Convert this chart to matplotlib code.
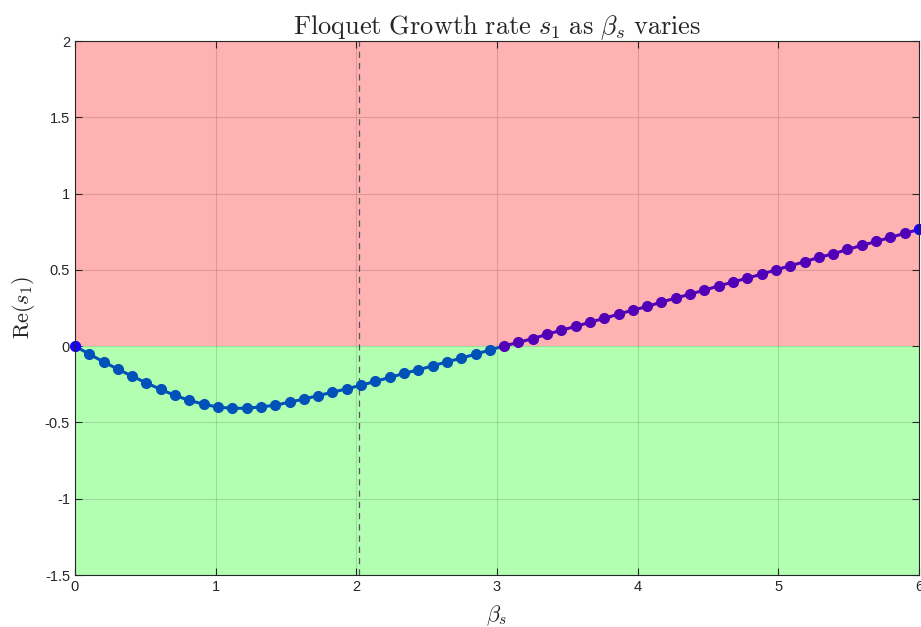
import numpy as np
import matplotlib
matplotlib.use('Agg')
import matplotlib.pyplot as plt

plt.rcParams['mathtext.fontset'] = 'cm'
plt.rcParams['font.family'] = ['Liberation Sans', 'DejaVu Sans']

# beta_s samples (60 points between 0 and 6) and Re(s_1)
beta_s = np.linspace(0, 6, 60)
re_s1 = [0.000, -0.052, -0.103, -0.151, -0.197, -0.241, -0.284, -0.323, -0.356, -0.380,
         -0.400, -0.407, -0.407, -0.398, -0.387, -0.367, -0.347, -0.324, -0.302, -0.280,
         -0.256, -0.231, -0.205, -0.179, -0.155, -0.129, -0.103, -0.079, -0.052, -0.026,
         0.002, 0.024, 0.050, 0.077, 0.105, 0.129, 0.157, 0.182, 0.210, 0.236,
         0.260, 0.289, 0.315, 0.341, 0.367, 0.395, 0.420, 0.446, 0.472, 0.500,
         0.527, 0.553, 0.582, 0.605, 0.634, 0.660, 0.686, 0.713, 0.739, 0.765]
re_s1 = np.array(re_s1)
beta_marked = 2.02

x_ticks = [0, 1, 2, 3, 4, 5, 6]
y_ticks = [-1.5, -1, -0.5, 0, 0.5, 1, 1.5, 2]
y_labels = ['-1.5', '-1', '-0.5', '0', '0.5', '1', '1.5', '2']

fig = plt.figure(figsize=(9.21, 6.27), dpi=100)
ax = fig.add_axes([0.0814, 0.0829, 0.9164, 0.8517])

# stable / unstable regions
ax.axhspan(0, 2, color='#ffb2b2', zorder=0, lw=0)
ax.axhspan(-1.5, 0, color='#b2ffb2', zorder=0, lw=0)

ax.axvline(beta_marked, color='#555555', ls=(0, (5, 4)), lw=0.9, zorder=2)

neg = re_s1 <= 0
k = np.argmax(~neg)  # first non-negative point after the dip
ax.plot(beta_s[:k + 1], re_s1[:k + 1], '-', color='#0052b8', lw=2.2, zorder=3)
ax.plot(beta_s[:k], re_s1[:k], 'o', color='#0052b8', ms=7, zorder=4)
ax.plot(beta_s[k:], re_s1[k:], '-o', color='#5200b8', lw=2.2, ms=7, zorder=4)
ax.plot([beta_s[0], beta_s[-1]], [re_s1[0], re_s1[-1]], 'o', color='#1a00ff', ms=7,
        zorder=5, clip_on=False)

ax.set_xlim(0, 6)
ax.set_ylim(-1.5, 2)
ax.set_xticks(x_ticks)
ax.set_yticks(y_ticks)
ax.set_yticklabels(y_labels)
ax.tick_params(direction='in', top=True, right=True, labelsize=10.5, length=5,
               colors='#262626', width=0.8)
ax.grid(True, color='black', alpha=0.13, lw=0.8)
ax.set_axisbelow(False)
for s in ax.spines.values():
    s.set_color('#262626')
    s.set_linewidth(0.8)
    s.set_zorder(6)

ax.set_title(r'$\mathrm{Floquet\ Growth\ rate}\ s_1\ \mathrm{as}\ \beta_s\ \mathrm{varies}$',
             fontsize=19, color='#262626', pad=5)
ax.set_xlabel(r'$\beta_s$', fontsize=16, color='#262626', labelpad=7)
ax.set_ylabel(r'$\mathrm{Re}(s_1)$', fontsize=16, color='#262626', labelpad=6)

fig.savefig('out.png', dpi=100)
